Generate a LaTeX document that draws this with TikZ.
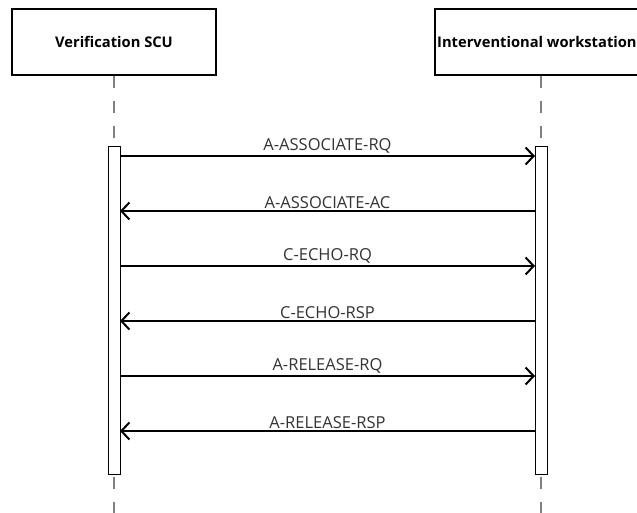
\documentclass[tikz,border=0pt]{standalone}
\usepackage{fontspec}
\setmainfont{Open Sans}
\usetikzlibrary{arrows.meta}

\begin{document}
\begin{tikzpicture}[x=1pt, y=-1pt,
    actor/.style={draw, line width=1.6pt, minimum height=66pt, inner sep=0pt},
    title/.style={inner sep=0pt, font=\bfseries\fontsize{14.7}{18}\selectfont},
    bar/.style={draw, line width=0.8pt, fill=white, minimum width=12pt, minimum height=328pt, inner sep=0pt},
    life/.style={gray, line width=1.4pt, dash pattern=on 12pt off 13pt},
    msg/.style={line width=1.8pt, -{Straight Barb[length=8pt, width=17pt, line width=2pt]}},
    lbl/.style={midway, above, inner sep=1.5pt, text=black!80, font=\fontsize{16.5}{19}\selectfont}]
            \clip (0,0) rectangle (637,512);
            \fill[white] (0,0) rectangle (637,512);

            \node[actor, minimum width=204pt, title] (scu) at (114,42) {Verification SCU};
            \node[actor, minimum width=212pt] (ws) at (541,42) {};
            \node[title, anchor=west] (wstxt) at (437,42) {Interventional workstation};

            \node[bar] (barL) at (114,310) {};
            \node[bar] (barR) at (541,310) {};
            \coordinate (endL) at (114,520);
            \coordinate (endR) at (541,520);

            \draw[life] (scu.south) -- (barL.north);
            \draw[life] (ws.south) -- (barR.north);
            \draw[life] ([yshift=-3pt]barL.south) -- (endL);
            \draw[life] ([yshift=-3pt]barR.south) -- (endR);

            \foreach \k/\y/\txt/\dir in {1/156/A-ASSOCIATE-RQ/r, 2/211/A-ASSOCIATE-AC/l,
                                         3/266/C-ECHO-RQ/r, 4/321/C-ECHO-RSP/l,
                                         5/376/A-RELEASE-RQ/r, 6/431/A-RELEASE-RSP/l} {
                \coordinate (L\k) at (120,\y);
                \coordinate (R\k) at (535,\y);
                \if\dir r
                    \draw[msg] (L\k) -- (R\k) node[lbl] {\txt};
                \else
                    \draw[msg] (R\k) -- (L\k) node[lbl] {\txt};
                \fi
            }
        \end{tikzpicture}
\end{document}
